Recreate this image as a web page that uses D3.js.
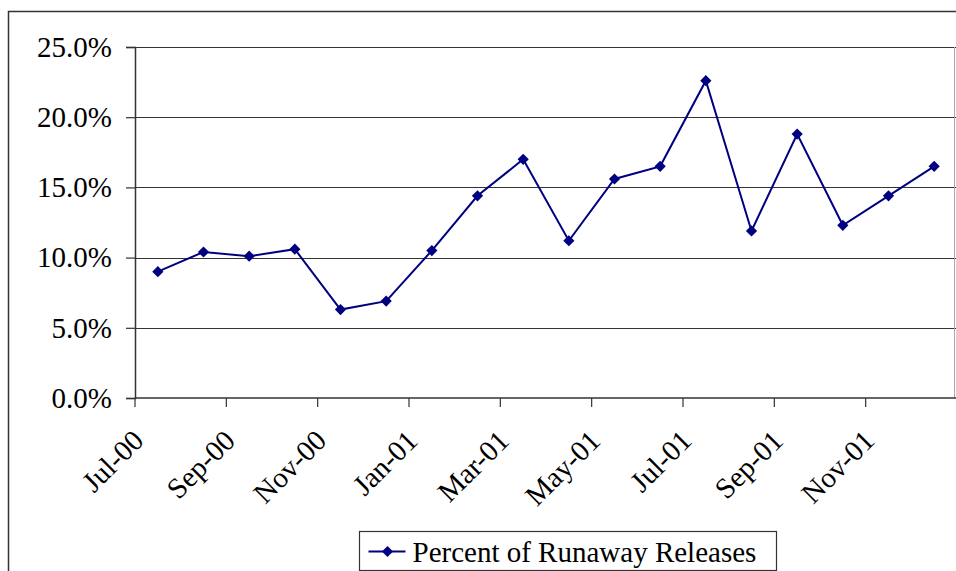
<!DOCTYPE html>
<html>
<head>
<meta charset="utf-8">
<script src="https://cdn.jsdelivr.net/npm/d3@7"></script>
<style>
  html, body { margin: 0; padding: 0; background: #fff; }
  svg { display: block; font-family: "Liberation Serif", "DejaVu Serif", serif; }
</style>
</head>
<body>
<div id="main"></div>
<script>
const width = 956;
const height = 571;

// months shown on the category axis
const months = [
  "Jul-00", "Aug-00", "Sep-00", "Oct-00", "Nov-00", "Dec-00",
  "Jan-01", "Feb-01", "Mar-01", "Apr-01", "May-01", "Jun-01",
  "Jul-01", "Aug-01", "Sep-01", "Oct-01", "Nov-01", "Dec-01"
];
// percent of runaway releases
const runawayPct = [
  9.0, 10.4, 10.1, 10.6, 6.3, 6.9,
  10.5, 14.4, 17.0, 11.2, 15.6, 16.5,
  22.6, 11.9, 18.8, 12.3, 14.4, 16.5
];
const yTicks = [0, 5, 10, 15, 20, 25];
const seriesName = "Percent of Runaway Releases";

const fontSize = 29;
const margin = { top: 47, right: 0, bottom: 173, left: 135 };
const plotW = 956 - margin.left - margin.right;
const plotH = height - margin.top - margin.bottom;

const svg = d3.select("#main")
  .append("svg")
  .attr("width", width)
  .attr("height", height);

// outer chart frame (runs off the right and bottom edge)
svg.append("rect")
  .attr("x", 8.5).attr("y", 11.5)
  .attr("width", 960).attr("height", 580)
  .attr("fill", "none")
  .attr("stroke", "#333")
  .attr("stroke-width", 1.5);

const g = svg.append("g").attr("transform", `translate(${margin.left},${margin.top})`);

const x = d3.scaleBand().domain(months).range([0, plotW + 1]).padding(0);
const y = d3.scaleLinear().domain([0, 25]).range([plotH, 0]);

// gridlines
g.append("g")
  .selectAll("line")
  .data(yTicks.filter(d => d > 0))
  .join("line")
  .attr("x1", 0).attr("x2", plotW)
  .attr("y1", d => Math.round(y(d)) + 0.5)
  .attr("y2", d => Math.round(y(d)) + 0.5)
  .attr("stroke", "#333")
  .attr("stroke-width", 1.2);

// right edge of plot area
g.append("line")
  .attr("x1", plotW - 1.5).attr("x2", plotW - 1.5)
  .attr("y1", 0).attr("y2", plotH)
  .attr("stroke", "#aaa");

// y axis
const yAxis = g.append("g")
  .call(d3.axisLeft(y).tickValues(yTicks).tickSize(9).tickPadding(14)
    .tickFormat(d => d.toFixed(1) + "%"));
yAxis.select(".domain").attr("stroke", "#333").attr("stroke-width", 1.5);
yAxis.selectAll(".tick line").attr("stroke", "#333").attr("stroke-width", 1.2);
yAxis.selectAll("text")
  .attr("font-family", "Liberation Serif, serif")
  .attr("font-size", fontSize)
  .attr("fill", "#000");

// x axis: ticks every other month at band boundaries
const xAxisG = g.append("g").attr("transform", `translate(0,${plotH})`);
xAxisG.append("line")
  .attr("x1", 0).attr("x2", plotW)
  .attr("y1", 0).attr("y2", 0)
  .attr("stroke", "#333").attr("stroke-width", 1.5);

const labelled = months.filter((m, i) => i % 2 === 0);
const xt = xAxisG.selectAll(".xtick")
  .data(labelled)
  .join("g")
  .attr("class", "xtick")
  .attr("transform", d => `translate(${x(d)},0)`);
xt.append("line")
  .attr("y1", 0).attr("y2", 9)
  .attr("stroke", "#333").attr("stroke-width", 1.2);
xt.append("text")
  .attr("transform", "translate(-4,30) rotate(-45)")
  .attr("text-anchor", "end")
  .attr("dy", "0.7em")
  .attr("font-size", fontSize)
  .attr("fill", "#000")
  .text(d => d);

// series line
const line = d3.line()
  .x((d, i) => x(months[i]) + x.bandwidth() / 2)
  .y(d => y(d));

g.append("path")
  .datum(runawayPct)
  .attr("fill", "none")
  .attr("stroke", "#000080")
  .attr("stroke-width", 2)
  .attr("d", line);

const diamond = d3.symbol().type(d3.symbolDiamond2).size(80);
g.selectAll(".pt")
  .data(runawayPct)
  .join("path")
  .attr("class", "pt")
  .attr("transform", (d, i) => `translate(${x(months[i]) + x.bandwidth() / 2},${y(d)})`)
  .attr("d", diamond)
  .attr("fill", "#000080");

// legend
const leg = svg.append("g").attr("transform", "translate(359.5,531.5)");
leg.append("rect")
  .attr("width", 417).attr("height", 39)
  .attr("fill", "#fff")
  .attr("stroke", "#333").attr("stroke-width", 1.2);
leg.append("line")
  .attr("x1", 9).attr("x2", 46)
  .attr("y1", 20).attr("y2", 20)
  .attr("stroke", "#000080").attr("stroke-width", 2);
leg.append("path")
  .attr("transform", "translate(28,20)")
  .attr("d", diamond)
  .attr("fill", "#000080");
leg.append("text")
  .attr("x", 53).attr("y", 30)
  .attr("font-size", fontSize)
  .attr("fill", "#000")
  .text(seriesName);
</script>
</body>
</html>
